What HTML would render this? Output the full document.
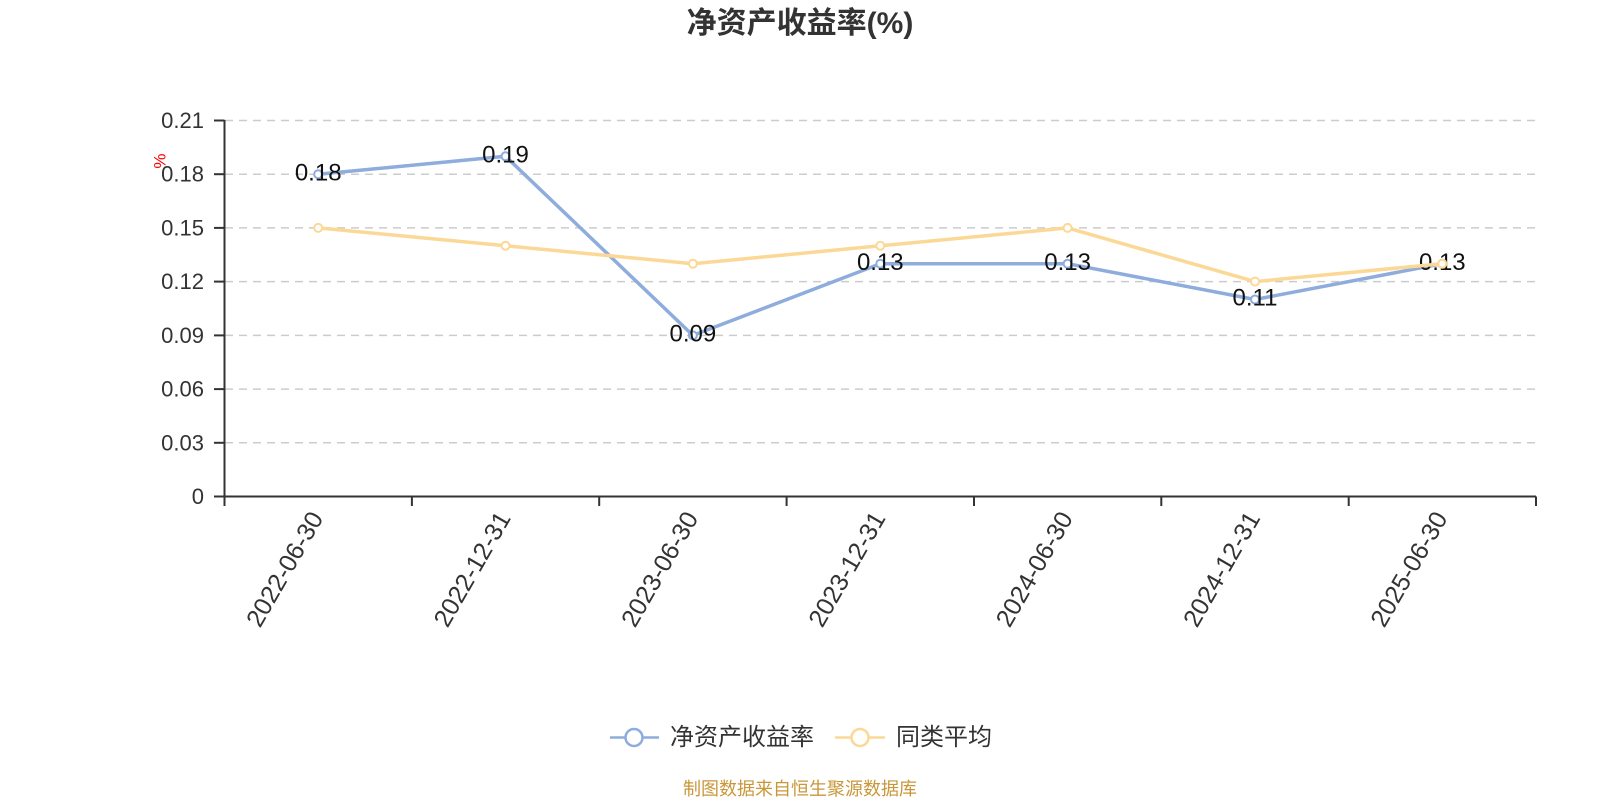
<!DOCTYPE html>
<html>
<head>
<meta charset="utf-8">
<style>
  html, body { margin: 0; padding: 0; background: #ffffff; }
  svg { display: block; }
  text { font-family: "Liberation Sans", "Noto Sans CJK SC", sans-serif; }
</style>
</head>
<body>
<svg width="1600" height="800" viewBox="0 0 1600 800" xmlns="http://www.w3.org/2000/svg">
  <!-- Title -->
  <text x="800" y="33" text-anchor="middle" font-size="30" font-weight="bold" fill="#333333">净资产收益率(%)</text>

  <!-- Gridlines -->
  <g stroke="#cccccc" stroke-width="1.5" stroke-dasharray="8,6">
    <line x1="225" y1="120.5" x2="1536" y2="120.5"/>
    <line x1="225" y1="174.2" x2="1536" y2="174.2"/>
    <line x1="225" y1="227.9" x2="1536" y2="227.9"/>
    <line x1="225" y1="281.6" x2="1536" y2="281.6"/>
    <line x1="225" y1="335.4" x2="1536" y2="335.4"/>
    <line x1="225" y1="389.1" x2="1536" y2="389.1"/>
    <line x1="225" y1="442.8" x2="1536" y2="442.8"/>
  </g>

  <!-- Axes -->
  <g stroke="#333333" stroke-width="2" fill="none">
    <line x1="224.5" y1="120" x2="224.5" y2="497"/>
    <line x1="224.5" y1="496.5" x2="1536" y2="496.5"/>
    <!-- y ticks -->
    <line x1="214" y1="120.5" x2="224.5" y2="120.5"/>
    <line x1="214" y1="174.2" x2="224.5" y2="174.2"/>
    <line x1="214" y1="227.9" x2="224.5" y2="227.9"/>
    <line x1="214" y1="281.6" x2="224.5" y2="281.6"/>
    <line x1="214" y1="335.4" x2="224.5" y2="335.4"/>
    <line x1="214" y1="389.1" x2="224.5" y2="389.1"/>
    <line x1="214" y1="442.8" x2="224.5" y2="442.8"/>
    <line x1="214" y1="496.5" x2="224.5" y2="496.5"/>
    <!-- x ticks -->
    <line x1="224.5" y1="496.5" x2="224.5" y2="506"/>
    <line x1="411.9" y1="496.5" x2="411.9" y2="506"/>
    <line x1="599.2" y1="496.5" x2="599.2" y2="506"/>
    <line x1="786.6" y1="496.5" x2="786.6" y2="506"/>
    <line x1="974" y1="496.5" x2="974" y2="506"/>
    <line x1="1161.3" y1="496.5" x2="1161.3" y2="506"/>
    <line x1="1348.7" y1="496.5" x2="1348.7" y2="506"/>
    <line x1="1536" y1="496.5" x2="1536" y2="506"/>
  </g>

  <!-- Y labels -->
  <g font-size="22" fill="#333333" text-anchor="end" dominant-baseline="central">
    <text x="204" y="120.5">0.21</text>
    <text x="204" y="174.2">0.18</text>
    <text x="204" y="227.9">0.15</text>
    <text x="204" y="281.6">0.12</text>
    <text x="204" y="335.4">0.09</text>
    <text x="204" y="389.1">0.06</text>
    <text x="204" y="442.8">0.03</text>
    <text x="204" y="496.5">0</text>
  </g>

  <!-- Y axis name -->
  <text x="0" y="0" font-size="17" fill="#ff0000" text-anchor="middle" dominant-baseline="central" transform="translate(160,161) rotate(-90)">%</text>

  <!-- X labels -->
  <g font-size="25" fill="#333333" text-anchor="end" dominant-baseline="central">
    <text transform="translate(317,514) rotate(-60)">2022-06-30</text>
    <text transform="translate(504.5,514) rotate(-60)">2022-12-31</text>
    <text transform="translate(692,514) rotate(-60)">2023-06-30</text>
    <text transform="translate(879.3,514) rotate(-60)">2023-12-31</text>
    <text transform="translate(1066.6,514) rotate(-60)">2024-06-30</text>
    <text transform="translate(1254,514) rotate(-60)">2024-12-31</text>
    <text transform="translate(1441.3,514) rotate(-60)">2025-06-30</text>
  </g>

  <!-- Blue series -->
  <polyline fill="none" stroke="#8eacdc" stroke-width="3.5" stroke-linejoin="round"
    points="318.2,174.2 505.5,156.3 692.9,335.4 880.3,263.7 1067.6,263.7 1255,299.5 1442.3,263.7"/>
  <g fill="#ffffff" stroke="#8eacdc" stroke-width="2">
    <circle cx="318.2" cy="174.2" r="4"/>
    <circle cx="505.5" cy="156.3" r="4"/>
    <circle cx="692.9" cy="335.4" r="4"/>
    <circle cx="880.3" cy="263.7" r="4"/>
    <circle cx="1067.6" cy="263.7" r="4"/>
    <circle cx="1255" cy="299.5" r="4"/>
    <circle cx="1442.3" cy="263.7" r="4"/>
  </g>
  <g font-size="24" fill="#111111" text-anchor="middle">
    <text x="318.2" y="180.5">0.18</text>
    <text x="505.5" y="162.5">0.19</text>
    <text x="692.9" y="341.5">0.09</text>
    <text x="880.3" y="270">0.13</text>
    <text x="1067.6" y="270">0.13</text>
    <text x="1255" y="305.5">0.11</text>
    <text x="1442.3" y="270">0.13</text>
  </g>

  <!-- Yellow series -->
  <polyline fill="none" stroke="#fcd897" stroke-width="3.5" stroke-linejoin="round"
    points="318.2,227.9 505.5,245.8 692.9,263.7 880.3,245.8 1067.6,227.9 1255,281.6 1442.3,263.7"/>
  <g fill="#ffffff" stroke="#fcd897" stroke-width="2">
    <circle cx="318.2" cy="227.9" r="4"/>
    <circle cx="505.5" cy="245.8" r="4"/>
    <circle cx="692.9" cy="263.7" r="4"/>
    <circle cx="880.3" cy="245.8" r="4"/>
    <circle cx="1067.6" cy="227.9" r="4"/>
    <circle cx="1255" cy="281.6" r="4"/>
    <circle cx="1442.3" cy="263.7" r="4"/>
  </g>

  <!-- Legend -->
  <line x1="610" y1="737.5" x2="659" y2="737.5" stroke="#8eacdc" stroke-width="2.5"/>
  <circle cx="634" cy="737.5" r="8.5" fill="#ffffff" stroke="#8eacdc" stroke-width="2.5"/>
  <text x="670" y="737.5" font-size="24" fill="#333333" dominant-baseline="central">净资产收益率</text>

  <line x1="835" y1="737.5" x2="885" y2="737.5" stroke="#fcd897" stroke-width="2.5"/>
  <circle cx="860" cy="737.5" r="8.5" fill="#ffffff" stroke="#fcd897" stroke-width="2.5"/>
  <text x="896" y="737.5" font-size="24" fill="#333333" dominant-baseline="central">同类平均</text>

  <!-- Source -->
  <text x="800" y="789" font-size="18" fill="#c9973a" text-anchor="middle" dominant-baseline="central">制图数据来自恒生聚源数据库</text>
</svg>
</body>
</html>
